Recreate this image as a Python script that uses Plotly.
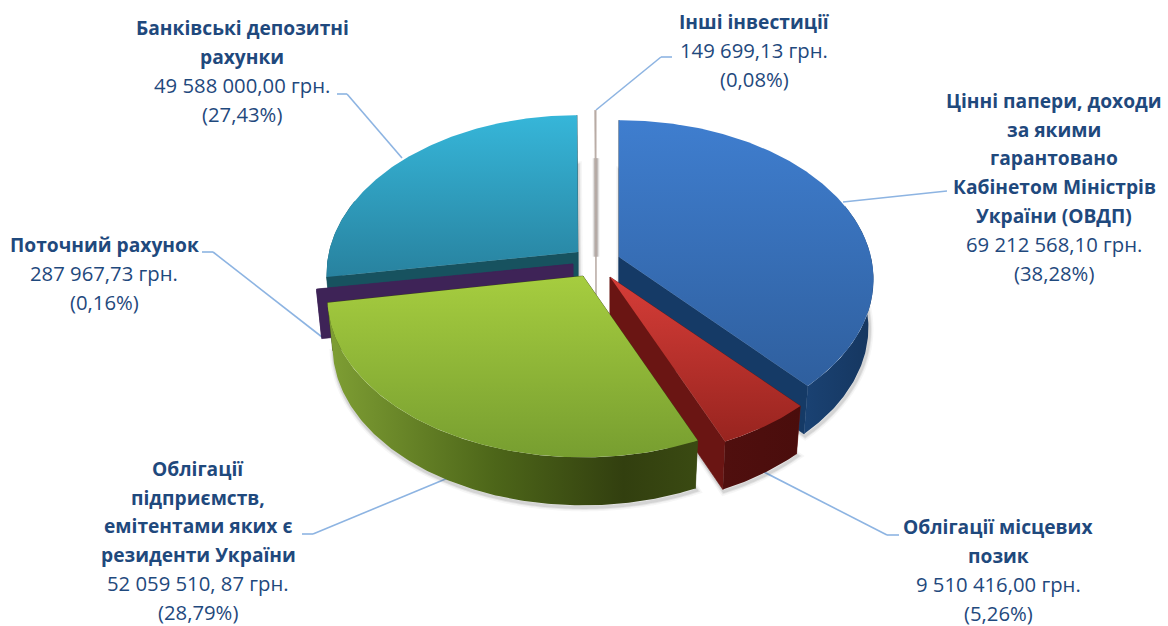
import numpy as np
import plotly.graph_objects as go

# ---- data (clockwise from 12 o'clock) ----
categories = ["Цінні папери", "Облігації місцевих позик", "Облігації підприємств",
              "Поточний рахунок", "Банківські депозитні рахунки", "Інші інвестиції"]
values = [69212568.10, 9510416.00, 52059510.87, 287967.73, 49588000.00, 149699.13]

# ---- style ----
apex_x = [619, 610, 583, 573, 578, 596]
apex_y = [257, 277, 276, 264, 252, 247]
radius = [252, 254, 253, 254, 249, 254]
top_cols = [("#3f7ecf", "#2f5f9e"), ("#d63d38", "#98241f"), ("#a6cd3f", "#779e30"),
            ("#3e2357", "#3e2357"), ("#36b6d9", "#28829f"), ("#b8aba4", "#b8aba4")]
inner_cols = ["#153a66", "#6a1513", "#3a4a12", "#3e2357", "#17525f", "#b8aba4"]
outer_cols = [[(0, "#1a4273"), (1, "#15365f")], [(0, "#500f0e"), (1, "#4a0d0c")],
              [(0, "#7f9f34"), (0.45, "#4d6619"), (0.8, "#323f0f"), (1, "#3a4a12")],
              [(0, "#3e2357"), (1, "#3e2357")], [(0, "#17525f"), (1, "#17525f")],
              [(0, "#b8aba4"), (1, "#b8aba4")]]
B, K, DEPTH, SHRINK = 156, 0.14, 48, 0.98
INK = "#1f497d"
LEADER = "#8db4e2"

FONT = "Open Sans, Noto Sans, sans-serif"
FS_BOLD = 19.2
FS_PLAIN = 20.3
labels = [
    dict(x=1054, y=100.5, bold=["Цінні папери, доходи", "за якими", "гарантовано", "Кабінетом Міністрів", "України (ОВДП)"],
         plain=["69 212 568,10 грн.", "(38,28%)"]),
    dict(x=998, y=526.5, bold=["Облігації місцевих", "позик"], plain=["9 510 416,00 грн.", "(5,26%)"]),
    dict(x=198, y=468.5, bold=["Облігації", "підприємств,", "емітентами яких є", "резиденти України"],
         plain=["52 059 510, 87 грн.", "(28,79%)"]),
    dict(x=104, y=244.5, bold=["Поточний рахунок"], plain=["287 967,73 грн.", "(0,16%)"]),
    dict(x=242, y=27.5, bold=["Банківські депозитні", "рахунки"], plain=["49 588 000,00 грн.", "(27,43%)"]),
    dict(x=754, y=21.5, bold=["Інші інвестиції"], plain=["149 699,13 грн.", "(0,08%)"]),
]
LINE_STEP = 28.7
leaders = [
    [(843, 202), (947, 191)],
    [(760, 470), (887, 535), (899, 535)],
    [(448, 478), (313, 534), (302, 534)],
    [(322, 337), (213, 252), (202, 252)],
    [(402, 158), (347, 94), (337, 94)],
    [(596, 110), (661, 57), (672, 57)],
]

# ---- geometry, all derived from the values ----
vals = np.array(values)
edges = np.concatenate([[0], np.cumsum(vals) / vals.sum() * 360.0])


def proj(i, theta):
    """Offset from a slice's apex of the rim point at clockwise angle theta (deg)."""
    t = np.radians(np.asarray(theta, float))
    s = 1 / (1 + K * np.cos(t))
    return radius[i] * np.sin(t) * s, -B * np.cos(t) * s


def top(i, theta):
    dx, dy = proj(i, theta)
    return apex_x[i] + dx, apex_y[i] + dy


def bot(i, theta):
    dx, dy = proj(i, theta)
    return apex_x[i] + dx * SHRINK, apex_y[i] + dy + DEPTH


fig = go.Figure()


def poly(xs, ys, name, fill=None, grad=None, line=None):
    kw = dict(x=list(xs) + [xs[0]], y=list(ys) + [ys[0]], mode="lines", fill="toself", name=name,
              hoverinfo="skip", showlegend=False)
    if grad:
        kw["fillgradient"] = grad
        kw["fillcolor"] = "rgba(0,0,0,0)"
    else:
        kw["fillcolor"] = fill
    kw["line"] = dict(width=0.6, color=line or fill or "rgba(0,0,0,0)")
    fig.add_trace(go.Scatter(**kw))


def stroke(xs, ys, width, color):
    fig.add_trace(go.Scatter(x=list(xs), y=list(ys), mode="lines", hoverinfo="skip", showlegend=False,
                             line=dict(width=width, color=color, simplify=False)))


order = [4, 5, 0, 3, 1, 2]
for i in order:
    a, b = edges[i], edges[i + 1]
    th = np.linspace(a, b, max(3, int((b - a) * 1.5)))
    name = categories[i]
    # soft shadow round the underside
    bx, by = bot(i, th)
    if i == 5:
        ex, ey = bot(i, b)
        sx, sy = [ex, ex], [ey, ey + 0.72 * (apex_y[i] + DEPTH - ey)]
        for w, al in ((7, .10), (5, .22), (3, .35)):
            stroke(sx, sy, w, f"rgba(110,100,95,{al})")
    elif i != 3:
        sx = np.concatenate([[apex_x[i] + 0.0], bx, [apex_x[i]]]) + 1
        sy = np.concatenate([[apex_y[i] + DEPTH], by, [apex_y[i] + DEPTH]]) + 2
        for w, al in ((8, .05), (5, .08), (3, .12)):
            stroke(sx, sy, w, f"rgba(70,70,70,{al})")
    # radial walls
    for ang in (a, b):
        tx, ty = top(i, ang)
        ux, uy = bot(i, ang)
        poly([apex_x[i], tx, ux, apex_x[i]], [apex_y[i], ty, uy, apex_y[i] + DEPTH], name, fill=inner_cols[i])
    # outer wall (front part of the rim)
    lo, hi = max(a, 70), min(b, 290)
    if hi > lo:
        tw = np.linspace(lo, hi, max(3, int((hi - lo) * 1.5)))
        tx, ty = top(i, tw)
        ux, uy = bot(i, tw)
        poly(np.concatenate([tx, ux[::-1]]), np.concatenate([ty, uy[::-1]]), name,
             grad=dict(type="horizontal", colorscale=outer_cols[i]))
    # top face (gradient runs along the reversed y axis, so bottom colour comes first)
    tx, ty = top(i, th)
    poly(np.concatenate([[apex_x[i]], tx]), np.concatenate([[apex_y[i]], ty]), name,
         grad=dict(type="vertical", colorscale=[(0, top_cols[i][1]), (1, top_cols[i][0])]))

# leader lines
shapes = []
for pts in leaders:
    for (x0, y0), (x1, y1) in zip(pts, pts[1:]):
        shapes.append(dict(type="line", xref="x", yref="y", x0=x0, y0=y0, x1=x1, y1=y1, layer="below",
                           line=dict(color=LEADER, width=1.6)))

# labels, one annotation per line for exact leading
ann = []
for lab in labels:
    y = lab["y"]
    for txt, bold in [(t, True) for t in lab["bold"]] + [(t, False) for t in lab["plain"]]:
        ann.append(dict(x=lab["x"], y=y, xref="x", yref="y", showarrow=False, xanchor="center", yanchor="middle",
                        text=f"<b>{txt}</b>" if bold else txt,
                        font=dict(family=FONT, size=FS_BOLD if bold else FS_PLAIN, color=INK)))
        y += LINE_STEP

fig.update_layout(
    width=1168, height=626, margin=dict(l=0, r=0, t=0, b=0), autosize=False,
    paper_bgcolor="white", plot_bgcolor="white", showlegend=False,
    xaxis=dict(range=[0, 1168], visible=False, fixedrange=True),
    yaxis=dict(range=[626, 0], visible=False, fixedrange=True),
    shapes=shapes, annotations=ann,
)
fig.write_html("out.html", config={"displayModeBar": False},
               post_script="document.body.style.margin='0';document.documentElement.style.overflow='hidden';")
